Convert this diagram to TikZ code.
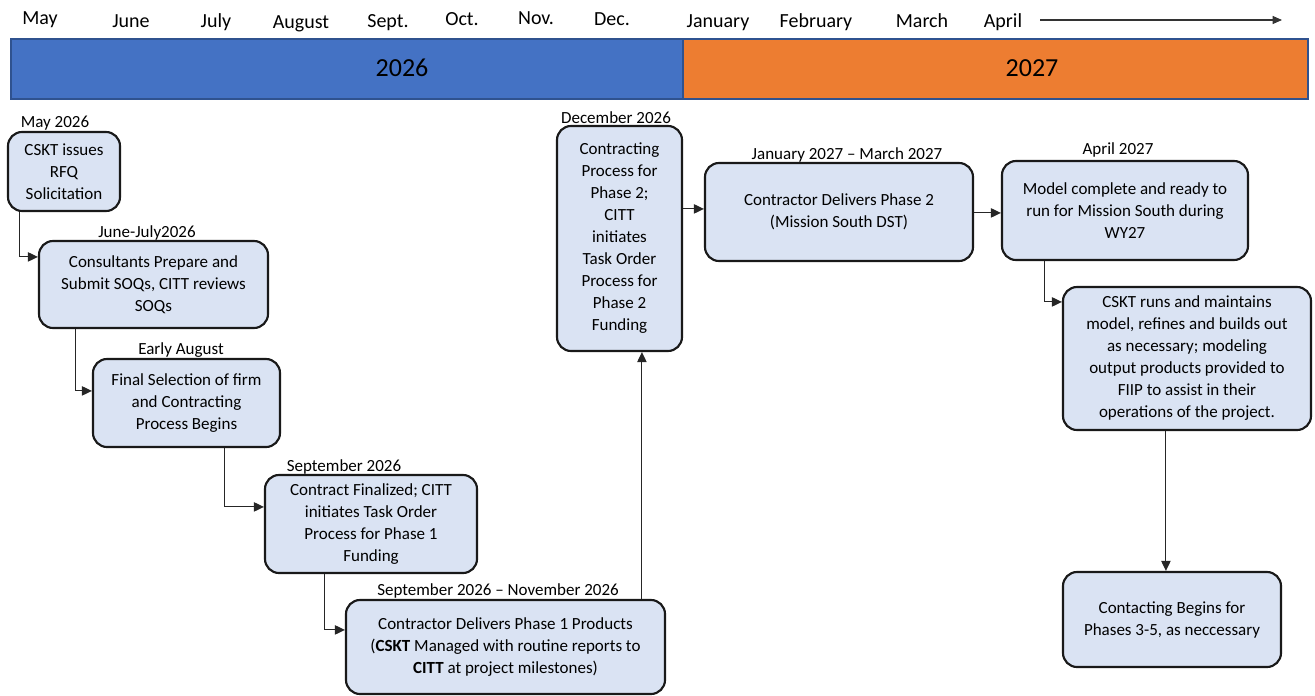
\documentclass[tikz,border=0pt]{standalone}
\usepackage{fontspec}
\setmainfont{Carlito}
\usetikzlibrary{arrows.meta}
\definecolor{boxfill}{HTML}{DAE3F3}
\definecolor{barblue}{HTML}{4472C4}
\definecolor{barorange}{HTML}{ED7D31}
\definecolor{barline}{HTML}{2F528F}
\def\pxu{0.75pt}
\begin{document}
\begin{tikzpicture}[x=0.75pt,y=-0.75pt,
  box/.style={draw=black!90, line width=1.6pt, rounded corners=10.5pt, fill=boxfill, align=center, inner sep=0pt, font=\fontsize{12.75}{16.5}\selectfont},
  lbl/.style={inner sep=0pt, anchor=base, font=\fontsize{12.75}{16.5}\selectfont},
  month/.style={inner sep=0pt, anchor=base, font=\fontsize{15}{18}\selectfont},
  yearlbl/.style={inner sep=0pt, font=\fontsize{19.5}{22}\selectfont},
  bar/.style={draw=barline, line width=1.5pt, inner sep=0pt, anchor=north west},
  conn/.style={line width=0.8pt, draw=black!85, -{Triangle[length=7.5pt,width=7pt]}},
  timearrow/.style={line width=0.8pt, draw=black!80, -{Triangle[length=7pt,width=6pt]}}]
\useasboundingbox (0,0) rectangle (1315,696);

% month names
\node[month] (mMay) at (40,24) {May};
\node[month] (mJun) at (131,27) {June};
\node[month] (mJul) at (216,27) {July};
\node[month] (mAug) at (301,28) {August};
\node[month] (mSep) at (388,27) {Sept.};
\node[month] (mOct) at (462,26) {Oct.};
\node[month] (mNov) at (536,24) {Nov.};
\node[month] (mDec) at (612,26) {Dec.};
\node[month] (mJan) at (718,27) {January};
\node[month] (mFeb) at (816,27) {February};
\node[month] (mMar) at (922,27) {March};
\node[month] (mApr) at (1003,27) {April};
\coordinate (ta0) at (1040,20);
\coordinate (ta1) at (1282,20);
\draw[timearrow] (ta0) -- (ta1);

% year bars
\node[bar, fill=barblue, minimum width=672*\pxu, minimum height=60*\pxu] (bar26) at (10,38) {};
\node[bar, fill=barorange, minimum width=625*\pxu, minimum height=60*\pxu] (bar27) at (682,38) {};
\node[yearlbl] (t26) at (402,68) {2026};
\node[yearlbl] (t27) at (1032,68) {2027};

% boxes
\node[box, minimum width=112*\pxu, minimum height=79*\pxu] (b1) at (64,171.5) {CSKT issues\\RFQ\\Solicitation};
\node[box, minimum width=229*\pxu, minimum height=87*\pxu] (b2) at (153.5,284.5) {Consultants Prepare and\\Submit SOQs, CITT reviews\\SOQs};
\node[box, minimum width=187*\pxu, minimum height=88*\pxu] (b3) at (186.5,403) {Final Selection of firm\\and Contracting\\Process Begins};
\node[box, minimum width=212*\pxu, minimum height=98*\pxu] (b4) at (371,524) {Contract Finalized; CITT\\initiates Task Order\\Process for Phase 1\\Funding};
\node[box, minimum width=319*\pxu, minimum height=94*\pxu] (b5) at (505.5,647) {Contractor Delivers Phase 1 Products\\(\textbf{CSKT} Managed with routine reports to\\\textbf{CITT} at project milestones)};
\node[box, minimum width=125*\pxu, minimum height=225*\pxu] (b6) at (619.5,238.5) {Contracting\\Process for\\Phase 2;\\CITT\\initiates\\Task Order\\Process for\\Phase 2\\Funding};
\node[box, minimum width=268*\pxu, minimum height=98*\pxu] (b7) at (839,212) {Contractor Delivers Phase 2\\(Mission South DST)};
\node[box, minimum width=246*\pxu, minimum height=99*\pxu] (b8) at (1125,210.5) {Model complete and ready to\\run for Mission South during\\WY27};
\node[box, minimum width=248*\pxu, minimum height=143*\pxu] (b9) at (1187,358.5) {CSKT runs and maintains\\model, refines and builds out\\as necessary; modeling\\output products provided to\\FIIP to assist in their\\operations of the project.};
\node[box, minimum width=218*\pxu, minimum height=95*\pxu] (b10) at (1172,619.5) {Contacting Begins for\\Phases 3-5, as neccessary};

% date labels
\node[lbl] (l1) at (55,127) {May 2026};
\node[lbl] (l2) at (147,237) {June-July2026};
\node[lbl] (l3) at (181,354) {Early August};
\node[lbl] (l4) at (344,471) {September 2026};
\node[lbl] (l5) at (498,595) {September 2026 -- November 2026};
\node[lbl] (l6) at (616,123) {December 2026};
\node[lbl] (l7) at (847,159) {January 2027 -- March 2027};
\node[lbl] (l8) at (1118,154) {April 2027};

% connectors
\draw[conn] ([xshift=13*\pxu]b1.south west) |- ([yshift=-17*\pxu]b2.north west);
\draw[conn] ([xshift=38*\pxu]b2.south west) |- ([yshift=-33*\pxu]b3.north west);
\draw[conn] ([xshift=133*\pxu]b3.south west) |- ([yshift=-33*\pxu]b4.north west);
\draw[conn] ([xshift=61*\pxu]b4.south west) |- ([yshift=-31*\pxu]b5.north west);
\draw[conn] ([xshift=297*\pxu]b5.north west) -- ([xshift=86*\pxu]b6.south west);
\draw[conn] ([yshift=-84*\pxu]b6.north east) -- ([yshift=-47*\pxu]b7.north west);
\draw[conn] ([yshift=-51*\pxu]b7.north east) -- ([yshift=-53*\pxu]b8.north west);
\draw[conn] ([xshift=44*\pxu]b8.south west) |- ([yshift=-16*\pxu]b9.north west);
\draw[conn] ([xshift=104*\pxu]b9.south west) -- ([xshift=104*\pxu]b10.north west);
\end{tikzpicture}
\end{document}
